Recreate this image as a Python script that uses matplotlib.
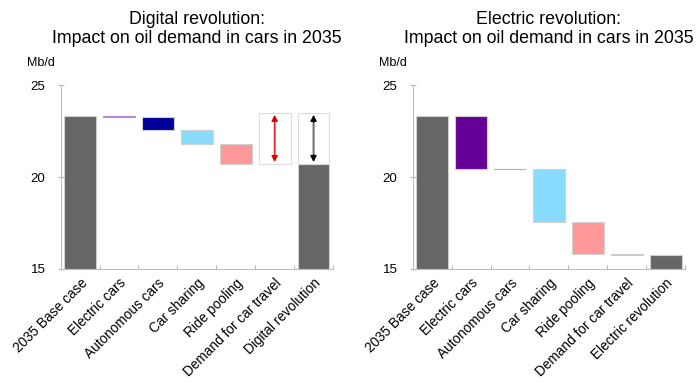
import matplotlib.pyplot as plt
import numpy as np

plt.rcParams['font.family'] = ['Liberation Sans', 'DejaVu Sans']

# Datos de las dos graficas (Mb/d)
categorias = ["2035 Base case", "Electric cars", "Autonomous cars", "Car sharing",
              "Ride pooling", "Demand for car travel"]
base_2035 = 23.3

# Digital revolution: cambios por factor
cambios_digital = [-0.03, -0.72, -0.75, -1.1]
rango_demanda_digital = 2.8   # caja de incertidumbre (demanda de viajes)
colores_digital = ["#b488d8", "#000099", "#8adcff", "#ff9999"]

# Electric revolution: cambios por factor
cambios_electrico = [-2.85, -0.03, -2.87, -1.75, -0.03]
colores_electrico = ["#660099", "#b0b0b0", "#8adcff", "#ff9999", "#cccccc"]

gris_barra = "#666666"
borde = "#d0d0d0"
ancho = 0.82

fig = plt.figure(figsize=(7, 3.87), dpi=100)
ax1 = fig.add_axes([0.0867, 0.305, 0.389, 0.475])
ax2 = fig.add_axes([0.5896, 0.305, 0.389, 0.475])


def estilo(ax, etiquetas, titulo):
    ax.set_ylim(15, 25)
    ax.set_xlim(-0.5, 6.5)
    ax.set_yticks([15, 20, 25])
    ax.set_xticks(range(7))
    ax.set_xticklabels(etiquetas, rotation=45, ha="right", rotation_mode="anchor",
                       fontsize=9.8)
    ax.set_xticks(np.arange(0.5, 7, 1), minor=True)
    ax.tick_params(axis="x", which="major", length=0, pad=5)
    ax.tick_params(axis="x", which="minor", direction="in", length=3, color="#aaaaaa")
    ax.tick_params(axis="y", direction="inout", length=4, color="#bbbbbb",
                   labelsize=9.5, pad=9)
    for lado in ["top", "right"]:
        ax.spines[lado].set_visible(False)
    for lado in ["left", "bottom"]:
        ax.spines[lado].set_color("#bbbbbb")
    ax.set_title(titulo, fontsize=12.8, pad=30, linespacing=1.2)
    ax.text(-0.125, 1.09, "Mb/d", transform=ax.transAxes, ha="left", va="bottom",
            fontsize=9)


def flecha(ax, x, abajo, arriba, color, color_linea):
    ax.annotate("", xy=(x, arriba), xytext=(x, abajo),
                arrowprops=dict(arrowstyle="<|-|>", color=color, lw=1,
                                mutation_scale=9, shrinkA=1.5, shrinkB=1.5))
    ax.annotate("", xy=(x, arriba), xytext=(x, abajo),
                arrowprops=dict(arrowstyle="-", color=color_linea, lw=1.2,
                                shrinkA=8, shrinkB=8))


# --- Digital revolution ---
ax1.bar(0, base_2035 - 15, bottom=15, width=ancho, color=gris_barra, edgecolor=borde, lw=0.8)
nivel = base_2035
for i, (c, col) in enumerate(zip(cambios_digital, colores_digital), start=1):
    ax1.bar(i, c, bottom=nivel, width=ancho, color=col,
            edgecolor=col if abs(c) < 0.1 else borde, lw=0.8)
    nivel += c
final_digital = nivel
ax1.bar(5, rango_demanda_digital, bottom=final_digital, width=ancho, color="white",
        edgecolor="#dddddd", lw=0.8)
ax1.bar(6, final_digital - 15, bottom=15, width=ancho, color=gris_barra, edgecolor=borde, lw=0.8)
ax1.bar(6, rango_demanda_digital, bottom=final_digital, width=ancho, color="white",
        edgecolor="#dddddd", lw=0.8)
flecha(ax1, 5, final_digital, final_digital + rango_demanda_digital, "#d40000", "#e03030")
flecha(ax1, 6, final_digital, final_digital + rango_demanda_digital, "black", "#777777")
estilo(ax1, categorias + ["Digital revolution"],
       "Digital revolution:\nImpact on oil demand in cars in 2035")

# --- Electric revolution ---
ax2.bar(0, base_2035 - 15, bottom=15, width=ancho, color=gris_barra, edgecolor=borde, lw=0.8)
nivel = base_2035
for i, (c, col) in enumerate(zip(cambios_electrico, colores_electrico), start=1):
    ax2.bar(i, c, bottom=nivel, width=ancho, color=col,
            edgecolor=col if abs(c) < 0.1 else borde, lw=0.8)
    nivel += c
ax2.bar(6, nivel - 15, bottom=15, width=ancho, color=gris_barra, edgecolor=borde, lw=0.8)
estilo(ax2, categorias + ["Electric revolution"],
       "Electric revolution:\nImpact on oil demand in cars in 2035")

plt.savefig("out.png", dpi=100)
